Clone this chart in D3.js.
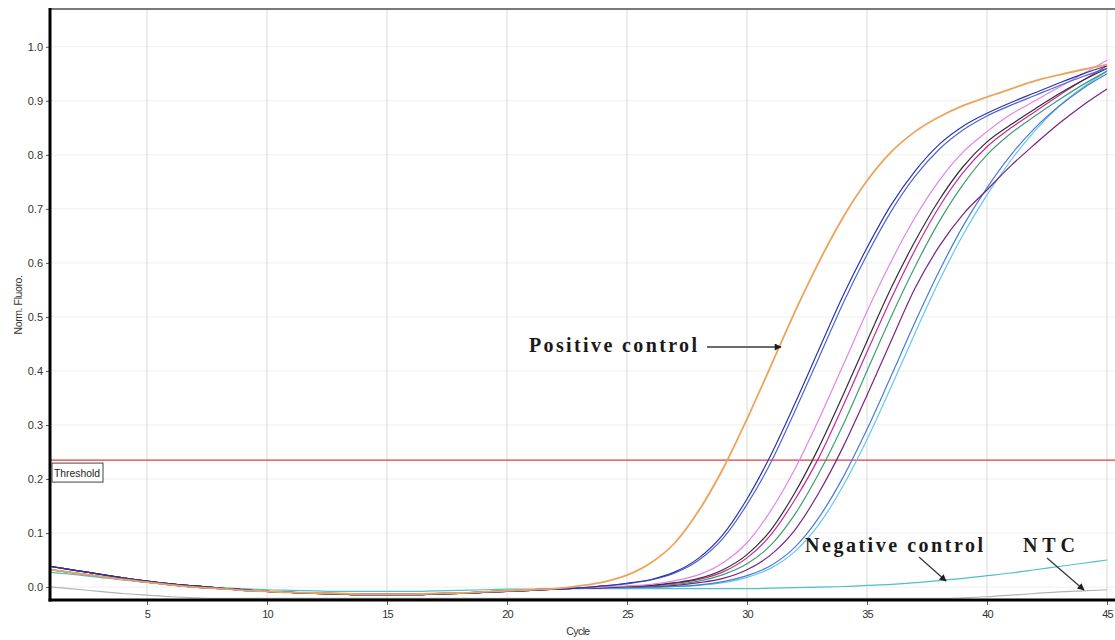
<!DOCTYPE html>
<html>
<head>
<meta charset="utf-8">
<script src="https://cdn.jsdelivr.net/npm/d3@7"></script>
<style>
  html, body { margin: 0; padding: 0; background: #fff; }
  svg { display: block; }
  .tick text { font-family: "Liberation Sans", Arial, sans-serif; fill: #333; }
</style>
</head>
<body>
<script>
// Amplification curves: normalised fluorescence per cycle.
const cycles = d3.range(1, 46);
const xTicks = [5, 10, 15, 20, 25, 30, 35, 40, 45];
const yTicks = [0.0, 0.1, 0.2, 0.3, 0.4, 0.5, 0.6, 0.7, 0.8, 0.9, 1.0];
const threshold = 0.235;

// Shared baseline drift, cycles 1-22
const baseHigh = [0.038, 0.031, 0.024, 0.017, 0.011, 0.006, 0.002, -0.002, -0.005, -0.008, -0.010,
                  -0.012, -0.013, -0.014, -0.014, -0.014, -0.013, -0.012, -0.010, -0.008, -0.006, -0.004];
const baseLow  = [0.032, 0.026, 0.020, 0.014, 0.009, 0.004, 0.000, -0.003, -0.006, -0.008, -0.010,
                  -0.011, -0.012, -0.013, -0.013, -0.013, -0.012, -0.011, -0.009, -0.007, -0.005, -0.003];

// Exponential / plateau phase, cycles 23-45
const positiveControl = [0.002, 0.009, 0.022, 0.045, 0.082, 0.142, 0.219, 0.311, 0.410, 0.510, 0.602, 0.684,
                         0.752, 0.805, 0.843, 0.870, 0.891, 0.907, 0.922, 0.937, 0.948, 0.958, 0.967];
const sampleA = [-0.002, 0.002, 0.007, 0.014, 0.028, 0.054, 0.097, 0.163, 0.245, 0.340, 0.440, 0.539,
                 0.628, 0.707, 0.770, 0.819, 0.853, 0.877, 0.897, 0.915, 0.933, 0.950, 0.965];
const sampleB = [-0.002, 0.002, 0.006, 0.013, 0.026, 0.050, 0.090, 0.153, 0.231, 0.326, 0.425, 0.525,
                 0.615, 0.695, 0.760, 0.810, 0.846, 0.872, 0.892, 0.910, 0.928, 0.945, 0.960];
const sampleC = [-0.002, 0.000, 0.002, 0.005, 0.012, 0.023, 0.045, 0.082, 0.142, 0.219, 0.311, 0.410,
                 0.510, 0.602, 0.684, 0.752, 0.805, 0.843, 0.875, 0.900, 0.925, 0.950, 0.975];
const sampleD = [-0.002, -0.001, 0.001, 0.003, 0.008, 0.016, 0.032, 0.060, 0.106, 0.175, 0.259, 0.355,
                 0.455, 0.553, 0.640, 0.716, 0.778, 0.824, 0.856, 0.885, 0.913, 0.938, 0.960];
const sampleE = [-0.002, -0.001, 0.001, 0.003, 0.007, 0.014, 0.028, 0.054, 0.097, 0.162, 0.240, 0.335,
                 0.435, 0.533, 0.624, 0.703, 0.767, 0.815, 0.850, 0.880, 0.910, 0.938, 0.965];
const sampleF = [-0.002, -0.001, 0.000, 0.002, 0.005, 0.011, 0.023, 0.043, 0.078, 0.135, 0.211, 0.300,
                 0.400, 0.500, 0.593, 0.676, 0.745, 0.800, 0.840, 0.872, 0.902, 0.930, 0.955];
const sampleG = [-0.002, -0.001, 0.000, 0.001, 0.003, 0.008, 0.016, 0.032, 0.060, 0.106, 0.175, 0.259,
                 0.355, 0.455, 0.553, 0.630, 0.690, 0.735, 0.780, 0.820, 0.858, 0.892, 0.922];
const sampleH = [-0.002, -0.001, -0.001, 0.000, 0.001, 0.004, 0.010, 0.021, 0.040, 0.074, 0.129, 0.203,
                 0.292, 0.390, 0.490, 0.584, 0.668, 0.739, 0.800, 0.850, 0.890, 0.923, 0.950];
const sampleI = [-0.002, -0.001, -0.001, -0.001, 0.001, 0.003, 0.008, 0.018, 0.035, 0.066, 0.116, 0.187,
                 0.273, 0.370, 0.470, 0.566, 0.652, 0.726, 0.790, 0.845, 0.890, 0.925, 0.955];

// Controls without amplification, cycles 1-45
const negativeControl = [0.027, 0.023, 0.018, 0.013, 0.009, 0.005, 0.002, -0.001, -0.003, -0.005, -0.006,
                         -0.007, -0.008, -0.008, -0.008, -0.008, -0.007, -0.006, -0.005, -0.004, -0.004, -0.003,
                         -0.003, -0.003, -0.003, -0.003, -0.003, -0.003, -0.003, -0.003, -0.002, -0.001, 0.000,
                         0.001, 0.003, 0.005, 0.008, 0.012, 0.016, 0.021, 0.026, 0.032, 0.038, 0.044, 0.050];
const ntc = [0.000, -0.004, -0.008, -0.012, -0.015, -0.018, -0.020, -0.021, -0.021, -0.021, -0.021,
             -0.021, -0.021, -0.021, -0.021, -0.021, -0.021, -0.021, -0.021, -0.021, -0.021, -0.021,
             -0.021, -0.021, -0.021, -0.021, -0.021, -0.021, -0.021, -0.021, -0.021, -0.021, -0.021,
             -0.021, -0.021, -0.021, -0.021, -0.021, -0.020, -0.018, -0.015, -0.012, -0.009, -0.007, -0.005];

const series = [
  { name: "NTC",      values: ntc,                               color: "#b4b4b4", width: 1.2 },
  { name: "Negative", values: negativeControl,                   color: "#4fbfca", width: 1.2 },
  { name: "I",        values: baseLow.concat(sampleI),           color: "#62c9ea", width: 1.2 },
  { name: "H",        values: baseLow.concat(sampleH),           color: "#4d78dc", width: 1.2 },
  { name: "G",        values: baseHigh.concat(sampleG),          color: "#7a2284", width: 1.2 },
  { name: "F",        values: baseLow.concat(sampleF),           color: "#3f9f6e", width: 1.2 },
  { name: "E",        values: baseHigh.concat(sampleE),          color: "#c8289a", width: 1.2 },
  { name: "D",        values: baseHigh.concat(sampleD),          color: "#303030", width: 1.2 },
  { name: "C",        values: baseLow.concat(sampleC),           color: "#e483ec", width: 1.2 },
  { name: "B",        values: baseLow.concat(sampleB),           color: "#4f63d8", width: 1.2 },
  { name: "A",        values: baseHigh.concat(sampleA),          color: "#2a36a8", width: 1.2 },
  { name: "Positive", values: baseLow.concat(positiveControl),   color: "#eea35a", width: 1.8 }
];

const W = 1115, H = 640;
const plotLeft = 50, plotRight = 1115, plotTop = 9, plotBottom = 600;

const x = d3.scaleLinear().domain([1, 45]).range([51, 1107]);
const y = d3.scaleLinear().domain([-0.024, 1.07]).range([plotBottom, plotTop]);

const svg = d3.select("body").append("svg").attr("width", W).attr("height", H);
svg.append("rect").attr("width", W).attr("height", H).attr("fill", "#fff");

const defs = svg.append("defs");
defs.append("clipPath").attr("id", "plot-clip")
  .append("rect").attr("x", plotLeft).attr("y", plotTop)
  .attr("width", plotRight - plotLeft).attr("height", plotBottom - plotTop);
defs.append("marker").attr("id", "arrow")
  .attr("viewBox", "0 0 10 10").attr("refX", 9).attr("refY", 5)
  .attr("markerWidth", 9).attr("markerHeight", 7).attr("markerUnits", "userSpaceOnUse")
  .attr("orient", "auto")
  .append("path").attr("d", "M0,0 L10,5 L0,10 Z").attr("fill", "#1e1e1e");

// Grid
svg.append("g").selectAll("line").data(yTicks).join("line")
  .attr("x1", plotLeft).attr("x2", plotRight)
  .attr("y1", d => y(d)).attr("y2", d => y(d))
  .attr("stroke", "#efefef").attr("stroke-width", 1);
svg.append("g").selectAll("line").data(xTicks).join("line")
  .attr("x1", d => x(d)).attr("x2", d => x(d))
  .attr("y1", plotTop).attr("y2", plotBottom)
  .attr("stroke", "#dadada").attr("stroke-width", 1);

// Threshold
svg.append("line")
  .attr("x1", plotLeft).attr("x2", plotRight)
  .attr("y1", y(threshold)).attr("y2", y(threshold))
  .attr("stroke", "#e53838").attr("stroke-width", 1.2);

// Curves
const line = d3.line()
  .x((d, i) => x(cycles[i]))
  .y(d => y(d))
  .curve(d3.curveMonotoneX);

svg.append("g").attr("clip-path", "url(#plot-clip)")
  .selectAll("path").data(series).join("path")
  .attr("d", d => line(d.values))
  .attr("fill", "none")
  .attr("stroke", d => d.color)
  .attr("stroke-width", d => d.width)
  .attr("stroke-linejoin", "round");

// Axes
const yAxis = svg.append("g").attr("transform", `translate(${plotLeft},0)`)
  .call(d3.axisLeft(y).tickValues(yTicks).tickFormat(d3.format(".1f")).tickSize(4).tickPadding(3));
yAxis.select(".domain").remove();
yAxis.selectAll(".tick line").attr("stroke", "#555");
yAxis.selectAll(".tick text").style("font-size", "11px");

const xAxis = svg.append("g").attr("transform", `translate(0,${plotBottom})`)
  .call(d3.axisBottom(x).tickValues(xTicks).tickSize(5).tickPadding(5));
xAxis.select(".domain").remove();
xAxis.selectAll(".tick line").attr("stroke", "#555");
xAxis.selectAll(".tick text").style("font-size", "11px").attr("letter-spacing", "-0.8");

// Frame
svg.append("line").attr("x1", plotLeft).attr("x2", plotRight).attr("y1", plotTop).attr("y2", plotTop)
  .attr("stroke", "#7a7a7a").attr("stroke-width", 2);
svg.append("line").attr("x1", plotLeft).attr("x2", plotLeft).attr("y1", plotTop - 1).attr("y2", plotBottom + 1.5)
  .attr("stroke", "#000").attr("stroke-width", 3);
svg.append("line").attr("x1", plotLeft - 1.5).attr("x2", plotRight).attr("y1", plotBottom).attr("y2", plotBottom)
  .attr("stroke", "#000").attr("stroke-width", 3);

// Axis titles
svg.append("text")
  .attr("transform", "translate(22,305) rotate(-90)")
  .attr("text-anchor", "middle")
  .attr("font-family", "Liberation Sans, Arial, sans-serif")
  .attr("font-size", 10.5).attr("fill", "#333")
  .attr("letter-spacing", "-0.4")
  .text("Norm. Fluoro.");
svg.append("text")
  .attr("x", 578).attr("y", 635)
  .attr("text-anchor", "middle")
  .attr("font-family", "Liberation Sans, Arial, sans-serif")
  .attr("font-size", 10.5).attr("fill", "#333")
  .attr("letter-spacing", "-0.6")
  .text("Cycle");

// Threshold tag
svg.append("rect")
  .attr("x", 52).attr("y", y(threshold) + 3).attr("width", 51).attr("height", 19)
  .attr("fill", "#fff").attr("stroke", "#444").attr("stroke-width", 1);
svg.append("text")
  .attr("x", 54).attr("y", y(threshold) + 16.5)
  .attr("font-family", "Liberation Sans, Arial, sans-serif")
  .attr("font-size", 10).attr("fill", "#222")
  .attr("textLength", 46).attr("lengthAdjust", "spacingAndGlyphs")
  .text("Threshold");

// Annotations
const label = (text, lx, ly, len) => svg.append("text")
  .attr("x", lx).attr("y", ly)
  .attr("font-family", "Liberation Serif, Times New Roman, serif")
  .attr("font-weight", "bold").attr("font-size", 20).attr("fill", "#1a1a1a")
  .attr("textLength", len).attr("lengthAdjust", "spacing")
  .text(text);
const arrow = (x1, y1, x2, y2) => svg.append("line")
  .attr("x1", x1).attr("y1", y1).attr("x2", x2).attr("y2", y2)
  .attr("stroke", "#3a3a3a").attr("stroke-width", 1.3)
  .attr("marker-end", "url(#arrow)");

label("Positive control", 529, 352, 168);
arrow(707, 347, 781, 347);
label("Negative control", 805, 552, 178);
arrow(919, 557, 946, 581);
label("NTC", 1023, 552, 52);
arrow(1047, 558, 1084, 590);
</script>
</body>
</html>
